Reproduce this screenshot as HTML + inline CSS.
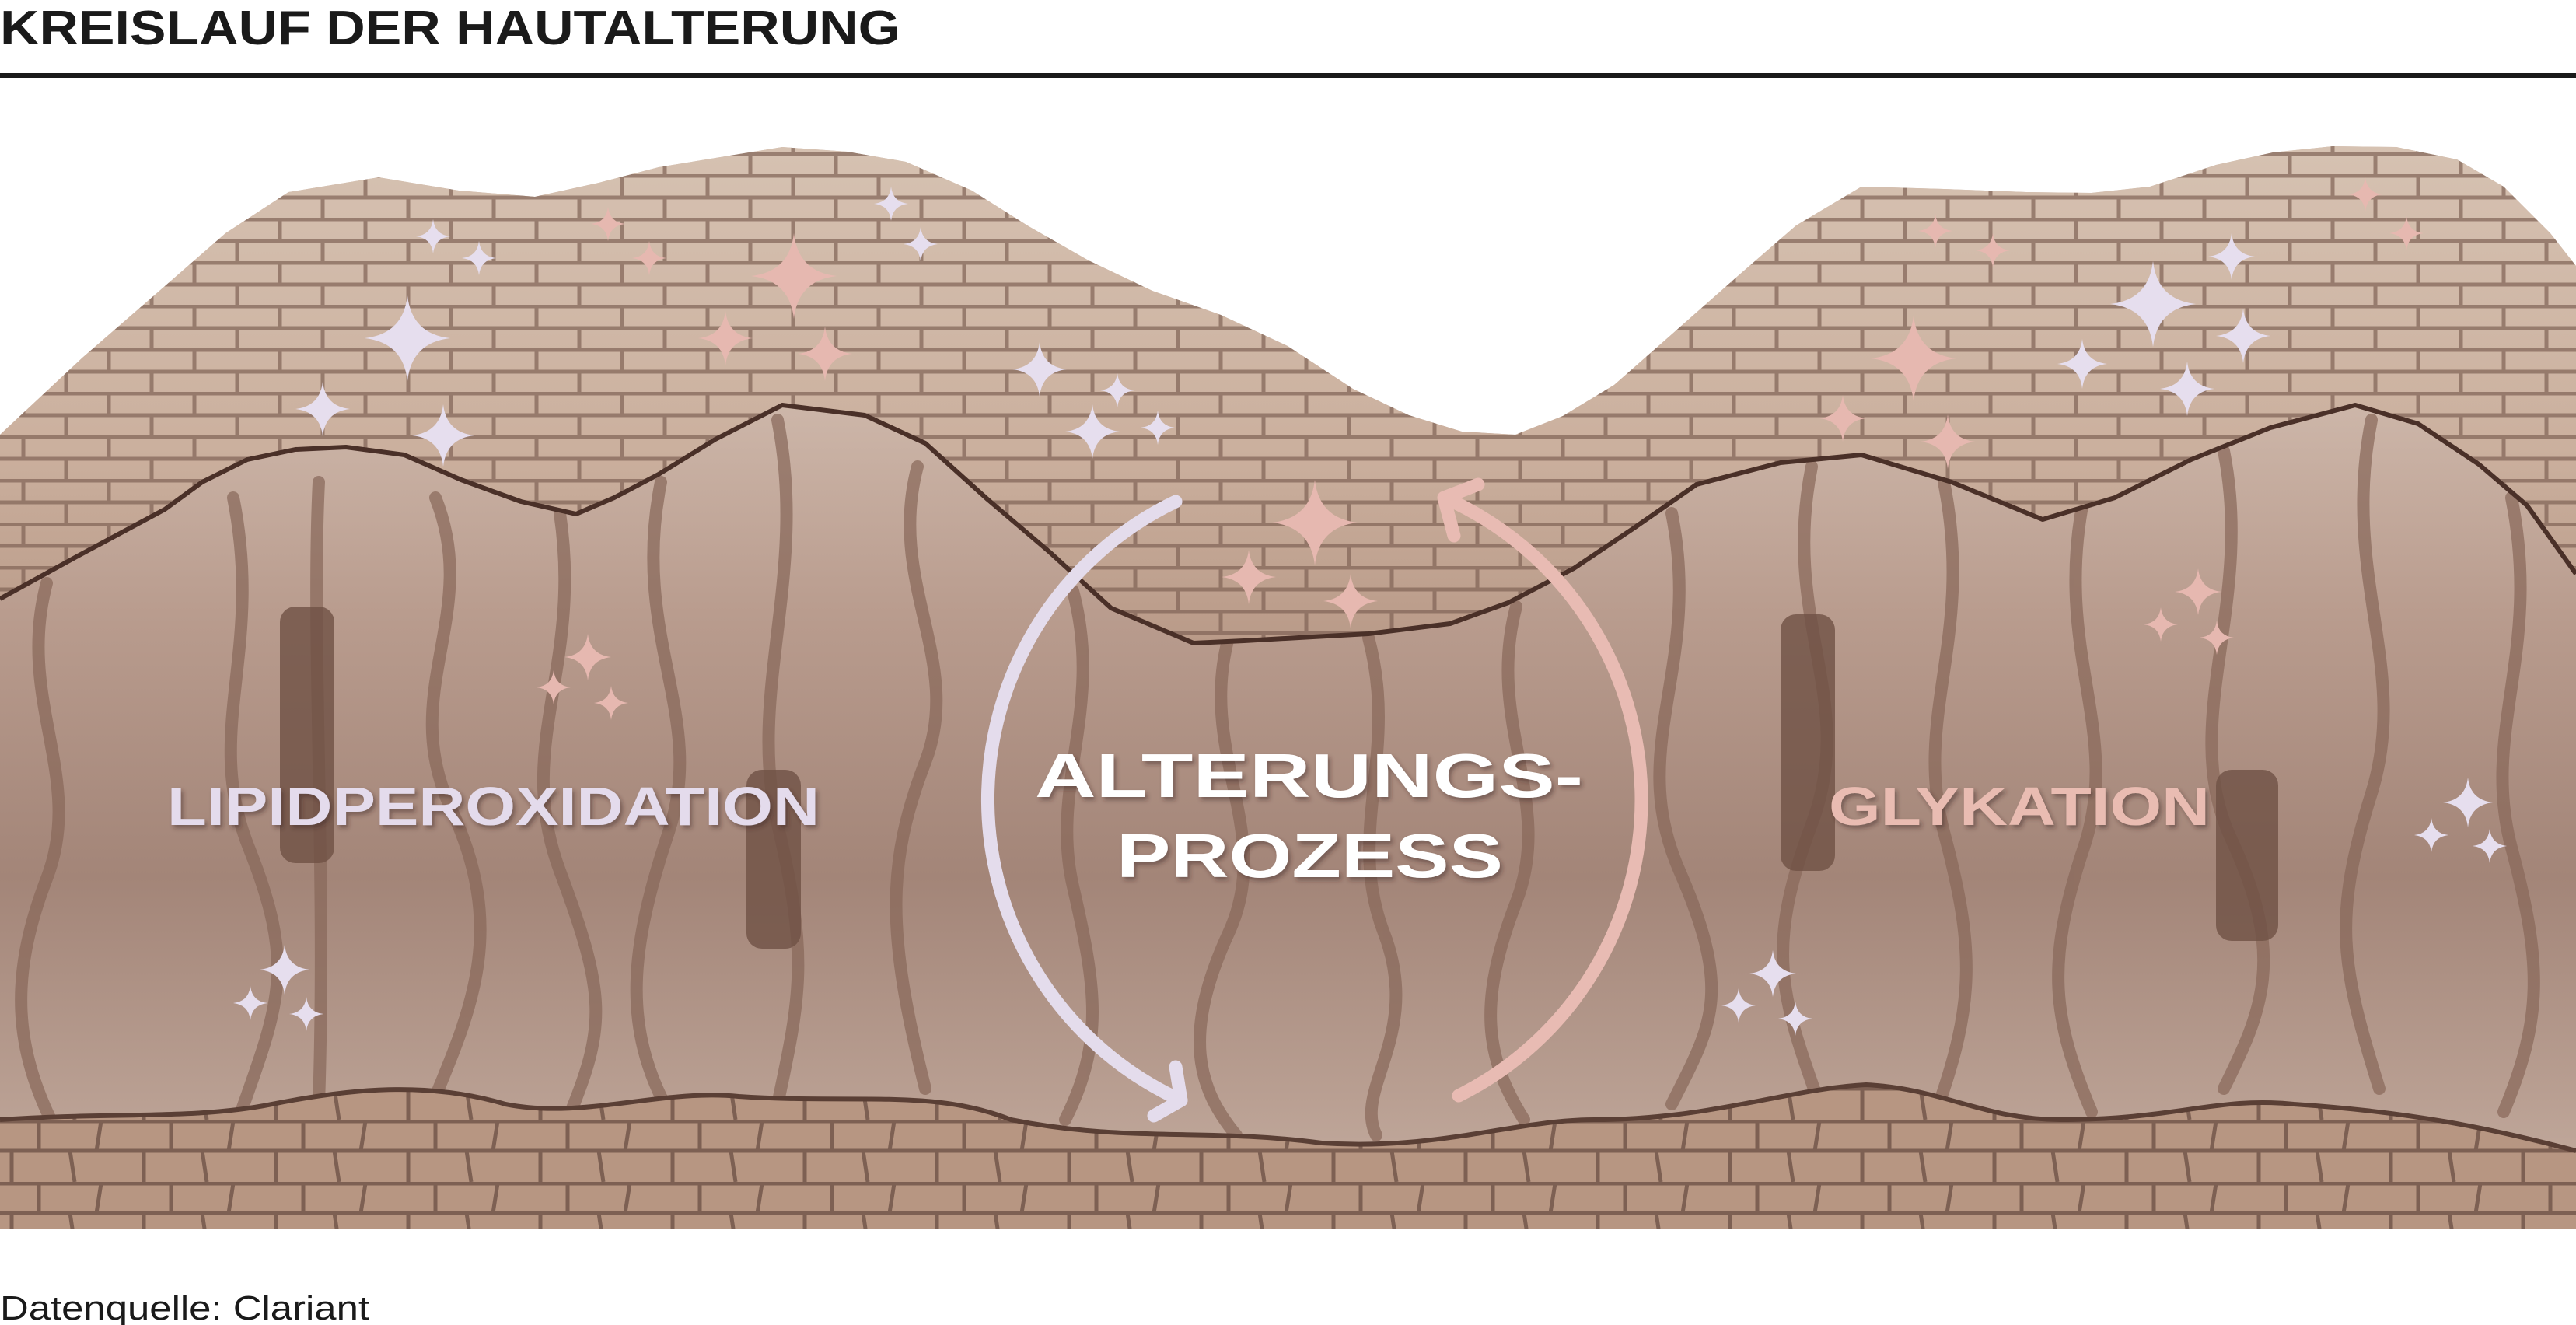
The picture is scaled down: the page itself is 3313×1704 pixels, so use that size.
<!DOCTYPE html>
<html><head><meta charset="utf-8">
<style>
html,body{margin:0;padding:0;background:#fff;}
body{width:3313px;height:1704px;overflow:hidden;position:relative;font-family:"Liberation Sans",sans-serif;}
svg{position:absolute;left:0;top:0;}
</style></head>
<body>
<svg width="3313" height="1704" viewBox="0 0 3313 1704" xmlns="http://www.w3.org/2000/svg">
<defs>
  <linearGradient id="dg" x1="0" y1="450" x2="0" y2="1580" gradientUnits="userSpaceOnUse">
    <stop offset="0" stop-color="#d2bdb0"/>
    <stop offset="0.3" stop-color="#b99c8e"/>
    <stop offset="0.6" stop-color="#a38578"/>
    <stop offset="0.85" stop-color="#b99f92"/>
    <stop offset="1" stop-color="#c7b1a4"/>
  </linearGradient>
  <linearGradient id="eg" x1="0" y1="180" x2="0" y2="840" gradientUnits="userSpaceOnUse">
    <stop offset="0" stop-color="#d6c2b2"/>
    <stop offset="0.6" stop-color="#cbb09e"/>
    <stop offset="1" stop-color="#b89987"/>
  </linearGradient>
  <pattern id="brick" width="110" height="56" patternUnits="userSpaceOnUse">
    <path d="M0,2 H110 M0,30 H110 M30,2 V30 M85,30 V56" stroke="#7f6255" stroke-width="5" fill="none"/>
  </pattern>
  <pattern id="cells" width="170" height="80" patternUnits="userSpaceOnUse">
    <path d="M0,2 H170 M0,40 H170 M50,2 V40 M130,2 L124,40 M90,40 L96,80 M15,40 V80" stroke="#6f5347" stroke-width="5" fill="none"/>
  </pattern>
  <symbol id="st" viewBox="-1 -1 2 2">
    <path d="M0,-1 Q0.1,-0.1 1,0 Q0.1,0.1 0,1 Q-0.1,0.1 -1,0 Q-0.1,-0.1 0,-1Z"/>
  </symbol>
  <filter id="sh" x="-10%" y="-30%" width="120%" height="160%">
    <feDropShadow dx="3" dy="4" stdDeviation="3" flood-color="#3a2520" flood-opacity="0.45"/>
  </filter>
</defs>

<text x="0" y="57" font-family="Liberation Sans, sans-serif" font-weight="bold" font-size="62" fill="#1a1a1a" textLength="1158" lengthAdjust="spacingAndGlyphs">KREISLAUF DER HAUTALTERUNG</text>
<rect x="0" y="94" width="3313" height="6" fill="#1a1a1a"/>

<!-- dermis -->
<path d="M0,559 L106,460 212,368 290,300 371,247 487,228 590,245 688,253 770,235 847,215 1006,189 1090,195 1165,208 1250,245 1323,291 1400,335 1482,374 1570,405 1656,445 1740,500 1812,534 1880,555 1949,559 2010,535 2076,495 2150,430 2235,355 2310,290 2394,240 2500,243 2606,247 2690,248 2765,240 2850,212 2923,196 3000,188 3082,189 3160,205 3220,240 3280,300 3313,342 L3313,1580 L0,1580Z" fill="url(#dg)"/>

<g fill="none" stroke="#876759" stroke-width="16" stroke-linecap="round" opacity="0.7">
  <path d="M60,750 c-40,150 50,250 0,380 s-40,220 10,320"/>
  <path d="M300,640 c40,200 -40,300 20,450 s40,200 -10,340"/>
  <path d="M410,620 c-10,200 10,500 0,800"/>
  <path d="M560,640 c60,150 -50,250 20,400 s30,250 -20,370"/>
  <path d="M720,660 c30,200 -60,300 0,460 s60,200 10,320"/>
  <path d="M850,620 c-40,200 60,300 10,450 s-60,250 0,360"/>
  <path d="M1000,540 c40,200 -40,350 0,520 s30,220 0,360"/>
  <path d="M1180,600 c-40,150 60,250 10,380 s-50,220 0,420"/>
  <path d="M1380,760 c40,150 -30,250 0,380 s40,200 -10,300"/>
  <path d="M1580,820 c-40,150 60,250 0,380 s-40,200 10,260"/>
  <path d="M1760,820 c40,150 -30,250 20,380 s-40,200 -10,260"/>
  <path d="M1950,780 c-40,150 50,250 0,380 s-40,200 10,280"/>
  <path d="M2150,660 c40,200 -60,300 10,460 s40,200 -10,300"/>
  <path d="M2330,600 c-40,200 60,300 0,460 s-40,220 10,360"/>
  <path d="M2500,620 c40,200 -40,300 0,450 s40,220 -10,360"/>
  <path d="M2680,640 c-40,200 50,300 0,450 s-40,220 10,340"/>
  <path d="M2860,580 c40,200 -60,350 10,500 s40,220 -10,320"/>
  <path d="M3050,540 c-40,200 50,320 0,480 s-40,220 10,380"/>
  <path d="M3230,640 c40,200 -40,300 0,450 s40,220 -10,340"/>
</g>
<g fill="#6f5145" opacity="0.8">
  <rect x="360" y="780" width="70" height="330" rx="20"/>
  <rect x="960" y="990" width="70" height="230" rx="20"/>
  <rect x="2290" y="790" width="70" height="330" rx="20"/>
  <rect x="2850" y="990" width="80" height="220" rx="20"/>
</g>

<!-- epidermis -->
<path d="M0,559 L106,460 212,368 290,300 371,247 487,228 590,245 688,253 770,235 847,215 1006,189 1090,195 1165,208 1250,245 1323,291 1400,335 1482,374 1570,405 1656,445 1740,500 1812,534 1880,555 1949,559 2010,535 2076,495 2150,430 2235,355 2310,290 2394,240 2500,243 2606,247 2690,248 2765,240 2850,212 2923,196 3000,188 3082,189 3160,205 3220,240 3280,300 3313,342 L3313,738 3250,650 3188,597 3110,545 3029,521 2920,550 2818,591 2720,640 2627,668 2510,620 2394,585 2290,595 2182,623 2100,680 2024,731 1940,775 1865,802 1760,815 1653,821 1600,824 1535,827 1429,782 1350,710 1270,642 1190,570 1112,534 1006,521 920,565 847,610 790,640 741,661 670,645 593,617 520,585 445,575 380,578 318,591 260,620 212,655 100,715 0,770Z" fill="url(#eg)"/>
<path d="M0,559 L106,460 212,368 290,300 371,247 487,228 590,245 688,253 770,235 847,215 1006,189 1090,195 1165,208 1250,245 1323,291 1400,335 1482,374 1570,405 1656,445 1740,500 1812,534 1880,555 1949,559 2010,535 2076,495 2150,430 2235,355 2310,290 2394,240 2500,243 2606,247 2690,248 2765,240 2850,212 2923,196 3000,188 3082,189 3160,205 3220,240 3280,300 3313,342 L3313,738 3250,650 3188,597 3110,545 3029,521 2920,550 2818,591 2720,640 2627,668 2510,620 2394,585 2290,595 2182,623 2100,680 2024,731 1940,775 1865,802 1760,815 1653,821 1600,824 1535,827 1429,782 1350,710 1270,642 1190,570 1112,534 1006,521 920,565 847,610 790,640 741,661 670,645 593,617 520,585 445,575 380,578 318,591 260,620 212,655 100,715 0,770Z" fill="url(#brick)" opacity="0.7"/>
<path d="M3313,738 L3250,650 3188,597 3110,545 3029,521 2920,550 2818,591 2720,640 2627,668 2510,620 2394,585 2290,595 2182,623 2100,680 2024,731 1940,775 1865,802 1760,815 1653,821 1600,824 1535,827 1429,782 1350,710 1270,642 1190,570 1112,534 1006,521 920,565 847,610 790,640 741,661 670,645 593,617 520,585 445,575 380,578 318,591 260,620 212,655 100,715 0,770" fill="none" stroke="#4a3028" stroke-width="6" stroke-linejoin="round"/>

<!-- basal cells -->
<path d="M0,1440 C150,1430 250,1440 350,1420 C450,1400 550,1390 650,1420 C750,1440 850,1400 950,1410 C1100,1420 1200,1400 1300,1440 C1450,1470 1550,1450 1700,1470 C1850,1480 1950,1440 2050,1440 C2200,1440 2300,1400 2400,1395 C2500,1400 2550,1440 2650,1440 C2800,1440 2850,1410 2950,1420 C3100,1430 3200,1450 3313,1480 L3313,1580 L0,1580Z" fill="#b79682"/>
<path d="M0,1440 C150,1430 250,1440 350,1420 C450,1400 550,1390 650,1420 C750,1440 850,1400 950,1410 C1100,1420 1200,1400 1300,1440 C1450,1470 1550,1450 1700,1470 C1850,1480 1950,1440 2050,1440 C2200,1440 2300,1400 2400,1395 C2500,1400 2550,1440 2650,1440 C2800,1440 2850,1410 2950,1420 C3100,1430 3200,1450 3313,1480 L3313,1580 L0,1580Z" fill="url(#cells)" opacity="0.8"/>
<path d="M0,1440 C150,1430 250,1440 350,1420 C450,1400 550,1390 650,1420 C750,1440 850,1400 950,1410 C1100,1420 1200,1400 1300,1440 C1450,1470 1550,1450 1700,1470 C1850,1480 1950,1440 2050,1440 C2200,1440 2300,1400 2400,1395 C2500,1400 2550,1440 2650,1440 C2800,1440 2850,1410 2950,1420 C3100,1430 3200,1450 3313,1480" fill="none" stroke="#5a3f35" stroke-width="6"/>

<g fill="#e6deee">
  <use href="#st" x="469" y="380" width="110" height="110"/>
  <use href="#st" x="380" y="491" width="70" height="70"/>
  <use href="#st" x="530" y="520" width="80" height="80"/>
  <use href="#st" x="535" y="282" width="44" height="44"/>
  <use href="#st" x="594" y="310" width="44" height="44"/>
  <use href="#st" x="1124" y="240" width="44" height="44"/>
  <use href="#st" x="1162" y="292" width="44" height="44"/>
  <use href="#st" x="1302" y="440" width="70" height="70"/>
  <use href="#st" x="1370" y="520" width="70" height="70"/>
  <use href="#st" x="1415" y="480" width="44" height="44"/>
  <use href="#st" x="1467" y="528" width="44" height="44"/>
  <use href="#st" x="334" y="1215" width="64" height="64"/>
  <use href="#st" x="300" y="1268" width="44" height="44"/>
  <use href="#st" x="372" y="1282" width="44" height="44"/>
  <use href="#st" x="2714" y="336" width="110" height="110"/>
  <use href="#st" x="2840" y="300" width="60" height="60"/>
  <use href="#st" x="2850" y="397" width="70" height="70"/>
  <use href="#st" x="2646" y="436" width="64" height="64"/>
  <use href="#st" x="2778" y="465" width="70" height="70"/>
  <use href="#st" x="2250" y="1222" width="60" height="60"/>
  <use href="#st" x="2214" y="1271" width="44" height="44"/>
  <use href="#st" x="2287" y="1288" width="44" height="44"/>
  <use href="#st" x="3142" y="1000" width="64" height="64"/>
  <use href="#st" x="3105" y="1052" width="44" height="44"/>
  <use href="#st" x="3180" y="1066" width="44" height="44"/>
</g>
<g fill="#e6b8b0">
  <use href="#st" x="760" y="266" width="44" height="44"/>
  <use href="#st" x="813" y="310" width="44" height="44"/>
  <use href="#st" x="966" y="300" width="110" height="110"/>
  <use href="#st" x="898" y="400" width="70" height="70"/>
  <use href="#st" x="1026" y="420" width="70" height="70"/>
  <use href="#st" x="726" y="815" width="60" height="60"/>
  <use href="#st" x="690" y="862" width="44" height="44"/>
  <use href="#st" x="764" y="882" width="44" height="44"/>
  <use href="#st" x="1636" y="617" width="110" height="110"/>
  <use href="#st" x="1571" y="707" width="70" height="70"/>
  <use href="#st" x="1702" y="738" width="70" height="70"/>
  <use href="#st" x="2406" y="406" width="110" height="110"/>
  <use href="#st" x="2340" y="508" width="60" height="60"/>
  <use href="#st" x="2470" y="533" width="70" height="70"/>
  <use href="#st" x="2467" y="275" width="44" height="44"/>
  <use href="#st" x="2541" y="300" width="44" height="44"/>
  <use href="#st" x="3020" y="228" width="44" height="44"/>
  <use href="#st" x="3073" y="278" width="44" height="44"/>
  <use href="#st" x="2797" y="731" width="60" height="60"/>
  <use href="#st" x="2757" y="781" width="44" height="44"/>
  <use href="#st" x="2829" y="798" width="44" height="44"/>
</g>

<g fill="none" stroke-width="17" stroke-linecap="round" stroke-linejoin="round">
  <path d="M1512,645 A425,425 0 0 0 1519,1415" stroke="#e4dcec"/>
  <path d="M1512,1372 L1519,1415 L1484,1435" stroke="#e4dcec"/>
  <path d="M1876,1409 A425,425 0 0 0 1862,642" stroke="#e8bbb3"/>
  <path d="M1901,623 L1857,640 L1870,689" stroke="#e8bbb3"/>
</g>

<g font-family="Liberation Sans, sans-serif" font-weight="bold" filter="url(#sh)">
  <text x="215" y="1061" font-size="70" fill="#e4dbec" textLength="839" lengthAdjust="spacingAndGlyphs">LIPIDPEROXIDATION</text>
  <text x="2352" y="1061" font-size="70" fill="#e9bcb2" textLength="490" lengthAdjust="spacingAndGlyphs">GLYKATION</text>
  <text x="1331" y="1025" font-size="80" fill="#ffffff" textLength="705" lengthAdjust="spacingAndGlyphs">ALTERUNGS-</text>
  <text x="1436" y="1128" font-size="80" fill="#ffffff" textLength="497" lengthAdjust="spacingAndGlyphs">PROZESS</text>
</g>

<text x="0" y="1697" font-family="Liberation Sans, sans-serif" font-size="44" fill="#1a1a1a" textLength="475" lengthAdjust="spacingAndGlyphs">Datenquelle: Clariant</text>
</svg>
</body></html>
